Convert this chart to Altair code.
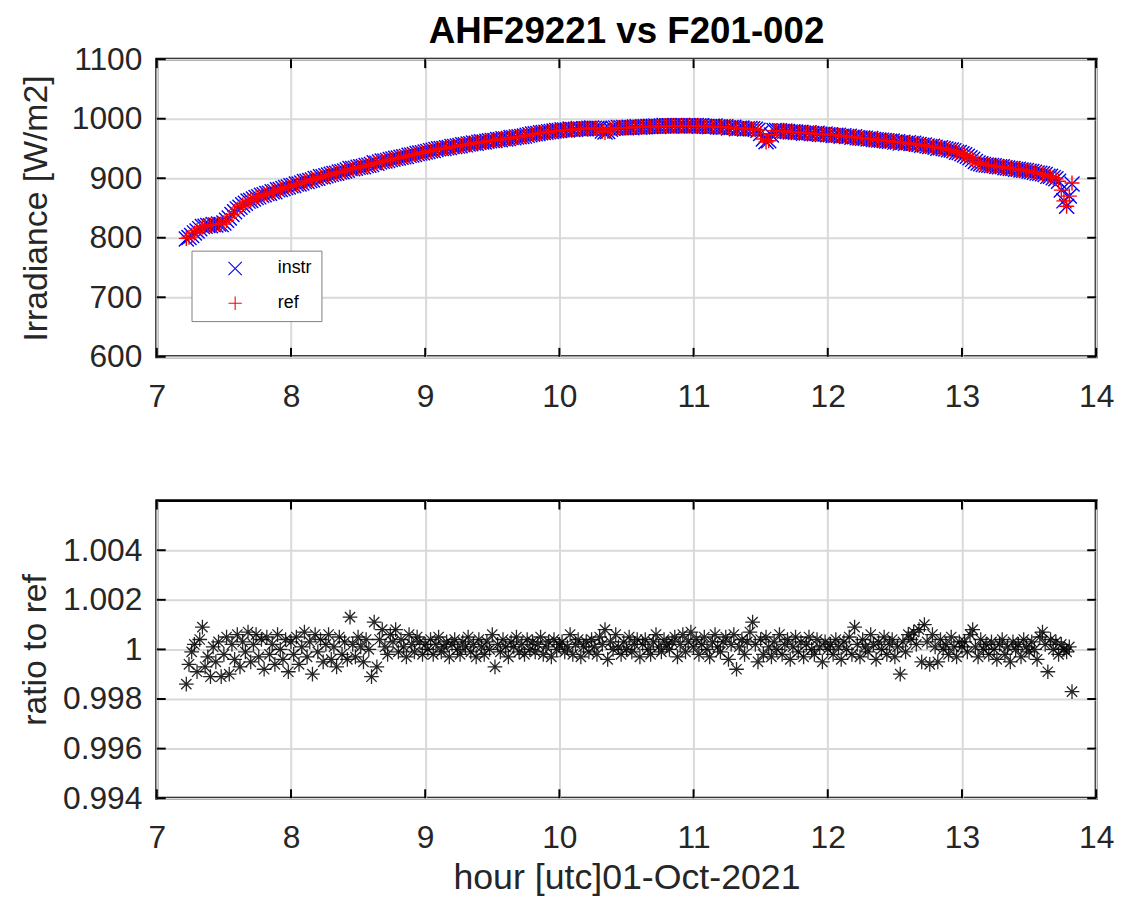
import altair as alt
import pandas as pd

# ---------------- data ----------------
hours = [
    7.22, 7.24, 7.26, 7.28, 7.30, 7.32, 7.34, 7.36, 7.38, 7.40,
    7.42, 7.44, 7.46, 7.48, 7.50, 7.52, 7.54, 7.56, 7.58, 7.60,
    7.62, 7.64, 7.66, 7.68, 7.70, 7.72, 7.74, 7.76, 7.78, 7.80,
    7.82, 7.84, 7.86, 7.88, 7.90, 7.92, 7.94, 7.96, 7.98, 8.00,
    8.02, 8.04, 8.06, 8.08, 8.10, 8.12, 8.14, 8.16, 8.18, 8.20,
    8.22, 8.24, 8.26, 8.28, 8.30, 8.32, 8.34, 8.36, 8.38, 8.40,
    8.42, 8.44, 8.46, 8.48, 8.50, 8.52, 8.54, 8.56, 8.58, 8.60,
    8.62, 8.64, 8.66, 8.68, 8.70, 8.72, 8.74, 8.76, 8.78, 8.80,
    8.82, 8.84, 8.86, 8.88, 8.90, 8.92, 8.94, 8.96, 8.98, 9.00,
    9.02, 9.04, 9.06, 9.08, 9.10, 9.12, 9.14, 9.16, 9.18, 9.20,
    9.22, 9.24, 9.26, 9.28, 9.30, 9.32, 9.34, 9.36, 9.38, 9.40,
    9.42, 9.44, 9.46, 9.48, 9.50, 9.52, 9.54, 9.56, 9.58, 9.60,
    9.62, 9.64, 9.66, 9.68, 9.70, 9.72, 9.74, 9.76, 9.78, 9.80,
    9.82, 9.84, 9.86, 9.88, 9.90, 9.92, 9.94, 9.96, 9.98, 10.00,
    10.02, 10.04, 10.06, 10.08, 10.10, 10.12, 10.14, 10.16, 10.18, 10.20,
    10.22, 10.24, 10.26, 10.28, 10.30, 10.32, 10.34, 10.36, 10.38, 10.40,
    10.42, 10.44, 10.46, 10.48, 10.50, 10.52, 10.54, 10.56, 10.58, 10.60,
    10.62, 10.64, 10.66, 10.68, 10.70, 10.72, 10.74, 10.76, 10.78, 10.80,
    10.82, 10.84, 10.86, 10.88, 10.90, 10.92, 10.94, 10.96, 10.98, 11.00,
    11.02, 11.04, 11.06, 11.08, 11.10, 11.12, 11.14, 11.16, 11.18, 11.20,
    11.22, 11.24, 11.26, 11.28, 11.30, 11.32, 11.34, 11.36, 11.38, 11.40,
    11.42, 11.44, 11.46, 11.48, 11.50, 11.52, 11.54, 11.56, 11.58, 11.60,
    11.62, 11.64, 11.66, 11.68, 11.70, 11.72, 11.74, 11.76, 11.78, 11.80,
    11.82, 11.84, 11.86, 11.88, 11.90, 11.92, 11.94, 11.96, 11.98, 12.00,
    12.02, 12.04, 12.06, 12.08, 12.10, 12.12, 12.14, 12.16, 12.18, 12.20,
    12.22, 12.24, 12.26, 12.28, 12.30, 12.32, 12.34, 12.36, 12.38, 12.40,
    12.42, 12.44, 12.46, 12.48, 12.50, 12.52, 12.54, 12.56, 12.58, 12.60,
    12.62, 12.64, 12.66, 12.68, 12.70, 12.72, 12.74, 12.76, 12.78, 12.80,
    12.82, 12.84, 12.86, 12.88, 12.90, 12.92, 12.94, 12.96, 12.98, 13.00,
    13.02, 13.04, 13.06, 13.08, 13.10, 13.12, 13.14, 13.16, 13.18, 13.20,
    13.22, 13.24, 13.26, 13.28, 13.30, 13.32, 13.34, 13.36, 13.38, 13.40,
    13.42, 13.44, 13.46, 13.48, 13.50, 13.52, 13.54, 13.56, 13.58, 13.60,
    13.62, 13.64, 13.66, 13.68, 13.70, 13.72, 13.74, 13.76, 13.78, 13.80,
    13.82,
]

ref_irradiance = [
    799, 801, 804, 808, 812, 815, 818, 820, 821, 821,
    822, 822, 823, 823, 825, 829, 834, 839, 844, 848,
    852, 855, 858, 861, 863, 865, 867, 869, 871, 873,
    874, 875, 877, 878, 880, 881, 883, 884, 886, 887,
    888, 890, 891, 892, 894, 895, 896, 898, 899, 900,
    902, 903, 904, 905, 907, 908, 909, 910, 911, 912,
    914, 915, 916, 917, 918, 919, 920, 921, 922, 924,
    925, 926, 927, 928, 929, 930, 931, 932, 933, 934,
    935, 936, 937, 938, 939, 940, 941, 942, 943, 944,
    945, 946, 947, 948, 949, 950, 950, 951, 952, 953,
    953, 954, 955, 956, 956, 957, 958, 959, 959, 960,
    961, 961, 962, 963, 963, 964, 965, 965, 966, 966,
    967, 968, 968, 969, 970, 970, 971, 972, 973, 974,
    975, 975, 976, 977, 977, 978, 979, 979, 980, 980,
    981, 981, 981, 982, 982, 982, 983, 983, 983, 983,
    984, 984, 984, 984, 983, 979, 977, 979, 982, 984,
    984, 985, 985, 985, 985, 985, 985, 986, 986, 986,
    986, 986, 987, 987, 987, 987, 987, 988, 988, 988,
    988, 988, 988, 988, 988, 988, 988, 988, 988, 988,
    988, 988, 988, 987, 987, 987, 987, 987, 986, 986,
    986, 986, 985, 985, 985, 984, 984, 984, 983, 983,
    983, 982, 982, 981, 975, 966, 961, 963, 973, 980,
    980, 979, 979, 979, 978, 978, 978, 977, 977, 977,
    976, 976, 976, 975, 975, 975, 974, 974, 974, 973,
    973, 972, 972, 972, 971, 971, 970, 970, 969, 969,
    968, 968, 967, 967, 966, 966, 965, 965, 964, 964,
    963, 963, 962, 962, 961, 961, 960, 960, 959, 959,
    958, 958, 957, 956, 956, 955, 954, 954, 953, 952,
    951, 951, 950, 949, 948, 947, 946, 944, 943, 941,
    939, 937, 934, 931, 928, 926, 924, 923, 922, 922,
    921, 921, 920, 919, 919, 918, 917, 917, 916, 915,
    915, 914, 913, 913, 912, 911, 910, 909, 908, 907,
    906, 904, 903, 901, 899, 895, 880, 862, 853, 870,
    892,
]

ratio_to_ref = [
    0.9986, 0.9994, 0.9999, 1.0002, 0.9991, 1.0004, 1.0009, 0.9993, 0.9997, 0.9989,
    1.0001, 0.9995, 1.0003, 0.9989, 0.9998, 1.0005, 0.9990, 1.0002, 0.9996, 1.0006,
    0.9993, 1.0003, 0.9999, 1.0007, 0.9995, 1.0002, 1.0006, 0.9997, 1.0004, 0.9992,
    1.0005, 0.9998, 1.0002, 0.9994, 1.0006, 1.0000, 0.9996, 1.0004, 0.9991, 1.0003,
    0.9998, 1.0005, 0.9994, 1.0001, 1.0007, 0.9997, 1.0003, 0.9990, 1.0006, 0.9999,
    1.0004, 0.9995, 1.0002, 1.0006, 0.9996, 1.0001, 0.9993, 1.0005, 0.9998, 1.0003,
    0.9996, 1.0013, 1.0002, 0.9997, 1.0005, 1.0001, 0.9995, 1.0004, 1.0000, 0.9989,
    1.0011, 0.9993, 1.0004, 1.0008, 1.0001, 0.9998, 1.0006, 1.0003, 1.0008, 0.9999,
    1.0004, 1.0001, 0.9997, 1.0006, 1.0002, 0.9999, 1.0005, 1.0003, 0.9998, 1.0002,
    1.0000, 1.0004, 0.9998, 1.0002, 1.0005, 0.9999, 1.0001, 1.0003, 0.9997, 1.0002,
    1.0004, 1.0000, 0.9998, 1.0003, 1.0001, 1.0005, 0.9999, 1.0002, 0.9997, 1.0004,
    1.0001, 0.9998, 1.0003, 1.0000, 1.0006, 0.9993, 1.0002, 0.9999, 1.0004, 1.0001,
    0.9997, 1.0003, 1.0001, 1.0005, 0.9999, 1.0002, 0.9998, 1.0004, 1.0000, 1.0003,
    0.9999, 1.0002, 1.0005, 0.9998, 1.0001, 1.0003, 0.9997, 1.0004, 1.0000, 1.0002,
    1.0003, 0.9999, 1.0001, 1.0006, 0.9998, 1.0002, 1.0004, 0.9997, 1.0001, 1.0003,
    0.9999, 1.0004, 1.0001, 0.9998, 1.0005, 1.0002, 1.0008, 0.9996, 1.0003, 1.0000,
    1.0006, 1.0001, 0.9998, 1.0003, 1.0000, 1.0005, 0.9999, 1.0002, 1.0004, 0.9997,
    1.0002, 1.0004, 1.0000, 0.9998, 1.0003, 1.0006, 1.0001, 0.9999, 1.0004, 1.0002,
    1.0000, 1.0003, 1.0005, 0.9997, 1.0002, 1.0006, 0.9999, 1.0003, 1.0007, 1.0001,
    1.0004, 0.9998, 1.0002, 1.0005, 1.0000, 0.9997, 1.0003, 1.0006, 1.0001, 0.9999,
    1.0003, 1.0005, 0.9996, 1.0002, 1.0006, 0.9992, 1.0001, 1.0004, 0.9998, 1.0003,
    1.0007, 1.0011, 1.0002, 0.9995, 1.0004, 0.9998, 1.0005, 1.0001, 0.9997, 1.0003,
    1.0000, 1.0006, 0.9998, 1.0002, 1.0004, 0.9996, 1.0001, 1.0005, 0.9999, 1.0003,
    0.9997, 1.0002, 1.0005, 1.0000, 0.9998, 1.0004, 1.0001, 0.9995, 1.0003, 1.0000,
    1.0002, 0.9998, 1.0004, 1.0001, 0.9996, 1.0003, 1.0000, 1.0005, 0.9998, 1.0009,
    1.0002, 0.9997, 1.0004, 1.0001, 0.9999, 1.0006, 1.0002, 0.9996, 1.0003, 1.0000,
    1.0005, 0.9998, 1.0002, 1.0004, 0.9997, 1.0001, 0.9990, 1.0003, 0.9999, 1.0006,
    1.0004, 1.0007, 1.0002, 1.0008, 0.9995, 1.0010, 1.0003, 0.9994, 1.0006, 1.0001,
    0.9995, 1.0004, 1.0000, 1.0002, 0.9998, 1.0005, 1.0001, 0.9997, 1.0003, 1.0001,
    1.0003, 0.9999, 1.0006, 1.0008, 1.0001, 0.9997, 1.0004, 1.0000, 1.0002, 0.9998,
    1.0003, 1.0000, 0.9996, 1.0002, 1.0004, 0.9998, 1.0001, 0.9995, 1.0003, 1.0000,
    1.0002, 0.9997, 1.0004, 1.0001, 0.9999, 1.0003, 1.0000, 0.9996, 1.0005, 1.0007,
    1.0002, 0.9991, 1.0004, 1.0000, 1.0003, 0.9998, 1.0002, 1.0000, 0.9999, 1.0001,
    0.9983,
]

# instrument irradiance = reference irradiance x ratio (definition of the lower panel)
instr_irradiance = [r * q for r, q in zip(ref_irradiance, ratio_to_ref)]

series_names = ["instr", "ref"]
x_ticks = [7, 8, 9, 10, 11, 12, 13, 14]
irr_ticks = [600, 700, 800, 900, 1000, 1100]
ratio_ticks = [0.994, 0.996, 0.998, 1.0, 1.002, 1.004]

n = len(hours)
df_top = pd.DataFrame({
    "hour": hours + hours,
    "irr": instr_irradiance + ref_irradiance,
    "series": [series_names[0]] * n + [series_names[1]] * n,
})
df_bot = pd.DataFrame({"hour": hours, "ratio": ratio_to_ref})
df_xt = pd.DataFrame({"t": x_ticks})
df_yt_top = pd.DataFrame({"v": irr_ticks})
df_yt_bot = pd.DataFrame({"v": ratio_ticks})

# ---------------- style ----------------
W, H = 947, 300
FONT = "Liberation Sans"
TXT = "#262626"
X_PATH = "M-1,-1L1,1M-1,1L1,-1"
PLUS_PATH = "M-1,0L1,0M0,-1L0,1"
STAR_PATH = "M-1,0L1,0M0,-1L0,1M-0.7,-0.7L0.7,0.7M-0.7,0.7L0.7,-0.7"
TICK_LEN = 9

xscale = alt.Scale(domain=[7, 14], nice=False, zero=False)
yscale_top = alt.Scale(domain=[600, 1100], nice=False, zero=False)
yscale_bot = alt.Scale(domain=[0.994, 1.006], nice=False, zero=False)

AX_COMMON = dict(grid=True, ticks=False, tickSize=0, domain=False)

x_axis_top = alt.Axis(title=None, values=x_ticks, format="d", labelFlush=False,
                      labelPadding=25, **AX_COMMON)
x_axis_bot = alt.Axis(title="hour [utc]01-Oct-2021", titlePadding=7, titleFontSize=36,
                      values=x_ticks, format="d", labelFlush=False, labelPadding=25,
                      **AX_COMMON)
y_axis_top = alt.Axis(title="Irradiance [W/m2]", values=irr_ticks, format="d", labelPadding=15,
                      titlePadding=18, labelFlush=False, **AX_COMMON)
y_axis_bot = alt.Axis(title="ratio to ref", values=ratio_ticks, labelPadding=15,
                      titlePadding=10, labelFlush=False,
                      labelExpr="abs(datum.value - 1) < 1e-9 ? '1' : format(datum.value, '.3f')",
                      **AX_COMMON)

legend = alt.Legend(
    title=None, orient="none", legendX=35, legendY=193,
    fillColor="white", strokeColor="#7f7f7f", padding=9,
    symbolSize=180, symbolStrokeWidth=1.1, symbolOffset=26,
    labelFont=FONT, labelFontSize=18, labelColor="#000000", labelOffset=34,
    rowPadding=17,
)

points_top = alt.Chart(df_top).mark_point(
    filled=False, size=230, strokeWidth=1.4, opacity=1
).encode(
    x=alt.X("hour:Q", scale=xscale, axis=x_axis_top),
    y=alt.Y("irr:Q", scale=yscale_top, axis=y_axis_top),
    color=alt.Color("series:N", scale=alt.Scale(domain=series_names, range=["#0000ff", "#ff0000"]),
                    legend=legend),
    shape=alt.Shape("series:N", scale=alt.Scale(domain=series_names, range=[X_PATH, PLUS_PATH]),
                    legend=legend),
)


def tick_layers(df_y, yscale, xaxis, yaxis):
    xt_a = alt.Chart(df_xt).mark_rule(color="black", strokeWidth=2).encode(
        x=alt.X("t:Q", scale=xscale, axis=xaxis), y=alt.value(0), y2=alt.value(TICK_LEN))
    xt_b = alt.Chart(df_xt).mark_rule(color="black", strokeWidth=2).encode(
        x=alt.X("t:Q", scale=xscale, axis=xaxis), y=alt.value(H), y2=alt.value(H - TICK_LEN))
    yt_a = alt.Chart(df_y).mark_rule(color="black", strokeWidth=2).encode(
        y=alt.Y("v:Q", scale=yscale, axis=yaxis), x=alt.value(0), x2=alt.value(TICK_LEN))
    yt_b = alt.Chart(df_y).mark_rule(color="black", strokeWidth=2).encode(
        y=alt.Y("v:Q", scale=yscale, axis=yaxis), x=alt.value(W), x2=alt.value(W - TICK_LEN))
    return [xt_a, xt_b, yt_a, yt_b]


top = alt.layer(points_top, *tick_layers(df_yt_top, yscale_top, x_axis_top, y_axis_top)).properties(
    width=W, height=H,
    title=alt.TitleParams("AHF29221 vs F201-002", font=FONT, fontSize=37, fontWeight="bold",
                          color="#000000", anchor="middle", frame="group", offset=-8),
)

points_bot = alt.Chart(df_bot).mark_point(
    shape=STAR_PATH, filled=False, size=220, strokeWidth=1.3, color="black", opacity=0.85
).encode(
    x=alt.X("hour:Q", scale=xscale, axis=x_axis_bot),
    y=alt.Y("ratio:Q", scale=yscale_bot, axis=y_axis_bot),
)

bottom = alt.layer(points_bot, *tick_layers(df_yt_bot, yscale_bot, x_axis_bot, y_axis_bot)).properties(
    width=W, height=H)

chart = alt.vconcat(top, bottom, spacing=84).properties(
    padding={"left": 9, "top": 0, "right": 0, "bottom": 0}
).configure_view(
    stroke="black", strokeWidth=3
).configure_axis(
    labelFont=FONT, labelFontSize=32, labelColor=TXT,
    titleFont=FONT, titleFontSize=34, titleFontWeight="normal", titleColor=TXT,
    gridColor="#d9d9d9", gridWidth=2,
)

chart.save("out.html", embed_options={"renderer": "svg", "actions": False})
